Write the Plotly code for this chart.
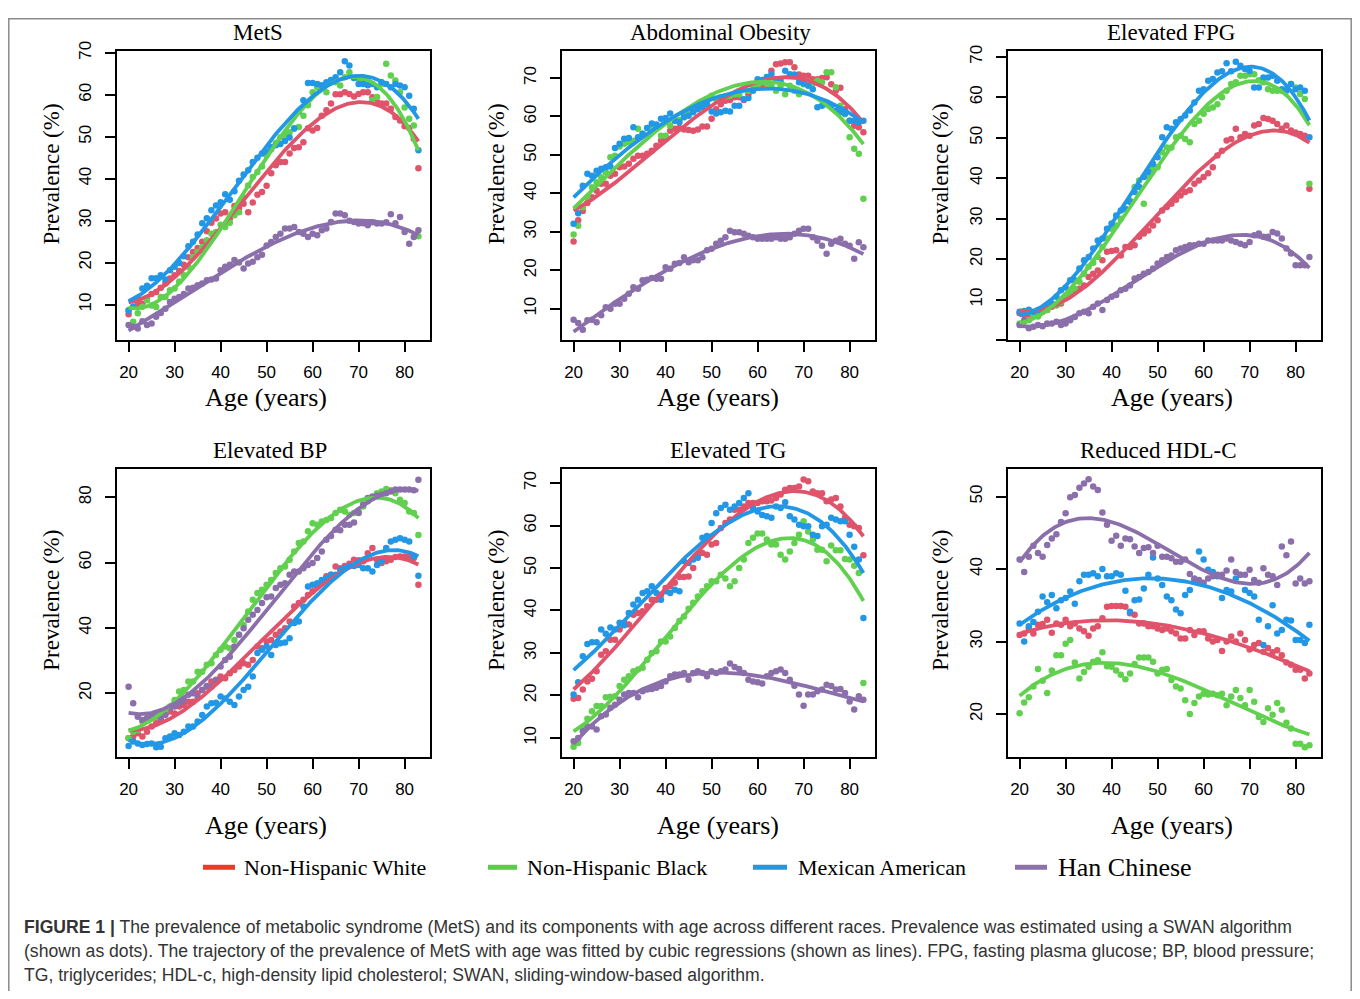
import numpy as np
import plotly.graph_objects as go

# ---------------- data ----------------
AGES = list(range(20, 84))
PANEL_TITLES = ["MetS", "Abdominal Obesity", "Elevated FPG", "Elevated BP", "Elevated TG", "Reduced HDL-C"]
RACES = ["Non-Hispanic White", "Non-Hispanic Black", "Mexican American", "Han Chinese"]
X_TICKS = [20, 30, 40, 50, 60, 70, 80]

METS_WHITE = [7.7, 9.5, 10.2, 10.2, 11.5, 12.5, 13, 14, 15, 16.2,
              17, 18, 19.5, 21.3, 22.5, 23.5, 25, 27.5, 29.5, 30.5,
              31.7, 32, 30.5, 33.5, 33, 34, 32, 34.3, 36.2, 36.8,
              38.3, 41.3, 43.2, 44, 44, 46, 47.3, 47.5, 48.7, 52,
              51.5, 52.1, 55, 56.3, 57.9, 60.1, 60.1, 60.6, 60.2, 59.6,
              60.2, 60.6, 60.6, 59.4, 58.3, 57.9, 57.9, 56.7, 54.7, 53.9,
              52.5, 52.1, 49.5, 42.5]
METS_BLACK = [8.7, 5.9, 7.9, 9.5, 11, 9.8, 9.4, 11.8, 11.8, 13.4,
              13.8, 15.5, 17, 19, 21.3, 22.5, 23.7, 25.3, 26.9, 27.3,
              29, 28.5, 29.5, 31.3, 32, 35.5, 38.4, 40.4, 41.6, 42.9,
              45.6, 47, 48.5, 49.9, 50.5, 51.1, 51.9, 52.3, 55, 57.5,
              60.6, 61.8, 61.8, 60.6, 63.4, 63, 62.2, 64.2, 65.4, 64,
              63.8, 63.6, 63.4, 58.7, 59.5, 62.6, 67.4, 64.6, 63.4, 60.6,
              57, 54.3, 52.7, 26.3]
METS_MEXICAN = [8.5, 9.5, 11.5, 13.8, 14.5, 16.3, 16.3, 17, 16, 18.2,
                19, 19.9, 21.5, 23.9, 25, 26.7, 29.4, 30.6, 32.5, 33.6,
                34.4, 36.3, 35, 37, 39.5, 41, 42, 44, 45, 46,
                46.5, 47.5, 48, 48.3, 49, 49.8, 52, 56, 58.7, 62.8,
                62.8, 62.6, 62.3, 63, 63.5, 64.2, 65.4, 68, 67, 64,
                62.6, 62.6, 62.3, 62.6, 61.8, 63, 62.6, 61.8, 62.6, 62.2,
                61.8, 59.8, 56.7, 46.8]
METS_HAN = [5.1, 4.7, 4.3, 6, 5.1, 5.5, 7.1, 8, 9, 10.6,
            11.4, 11.8, 12.5, 13.8, 14, 14.6, 15, 15.8, 16, 16.2,
            18.2, 19, 19.5, 20.6, 20, 18.6, 19.8, 20.2, 21.3, 21.9,
            24.1, 24.9, 26.1, 26.9, 28.1, 28.1, 28.5, 27.3, 26.9, 26.1,
            26.9, 26.5, 27.7, 28.1, 29.7, 31.7, 31.7, 31.3, 30, 29.7,
            29.3, 29.4, 28.9, 29.6, 29.3, 29.3, 29.6, 31.5, 29.4, 30.9,
            27.3, 24.5, 26.1, 27.7]

ABD_WHITE = [27.5, 33, 35.4, 37.5, 39, 40.7, 42.5, 42.5, 44.6, 45.1,
             46.8, 47, 47.7, 49, 49.8, 49.8, 50.3, 51.1, 52.4, 53.7,
             54.6, 56.3, 56.8, 57, 56.6, 56.5, 56.3, 56.6, 57.4, 57.4,
             59.4, 61.9, 63.2, 64.1, 64.3, 65, 65, 64.3, 65.8, 67.1,
             67.5, 68, 68.6, 71.9, 73.6, 73.8, 74.1, 74.1, 72.8, 70.9,
             70.6, 70.6, 69.7, 69.7, 70, 70.2, 68.4, 66.7, 67.5, 61.9,
             58.9, 57.6, 57.2, 55.9]
ABD_BLACK = [29.3, 31.6, 36.4, 39, 41.6, 42.9, 44.2, 45.5, 49.4, 49.8,
             52.2, 52.9, 53.3, 53.7, 56.8, 55.5, 57, 57.6, 57.2, 55,
             55, 57.6, 58.9, 59.1, 60.2, 61.1, 61.9, 62.4, 63.2, 64.5,
             65.4, 64.5, 65, 65.2, 65.4, 65.8, 65.8, 67.1, 66.7, 67.6,
             68, 68.9, 68.6, 68, 66.7, 68, 65.8, 68, 66.7, 65.8,
             68.4, 68.9, 68.6, 69.3, 68.9, 71.5, 71.5, 67.6, 62.8, 60.6,
             54.6, 51.6, 50.3, 38.6]
ABD_MEXICAN = [32.1, 34.8, 42, 45.1, 44.6, 45.9, 46.4, 46.8, 47, 51.8,
               52.9, 54.2, 54.4, 57.2, 54.6, 55.5, 57, 58.2, 57.9, 59.4,
               59.6, 60.8, 58.9, 58.5, 59.8, 60.2, 61.1, 61.9, 62.4, 63.2,
               61.3, 60.8, 61.1, 61.5, 61.3, 62.8, 62.8, 64.5, 64.8, 66.7,
               69.7, 69.5, 70.3, 71, 69.7, 69.3, 71.9, 71, 70.9, 68.9,
               68.6, 68, 67.1, 62.4, 62.8, 63.2, 62.8, 61.5, 61.1, 60.8,
               58.9, 58.9, 58.5, 58.9]
ABD_HAN = [7.1, 6.3, 4.5, 7, 7.1, 6.5, 8.3, 10.4, 10, 11.3,
           11.3, 12.6, 13.9, 15.6, 15.2, 17.4, 17.5, 18, 17.8, 17.8,
           20.8, 20.4, 21.7, 21.9, 23.4, 22.1, 22.6, 22.6, 23.4, 25.2,
           25.6, 26.9, 27.7, 28.6, 30.3, 29.9, 29.9, 29.5, 29, 28.6,
           28.2, 28.2, 28.2, 28.2, 28.6, 28.2, 28.2, 28.6, 29.5, 30.3,
           30.8, 30.8, 28.6, 27.7, 26.4, 24.3, 26.9, 27.7, 28.2, 26.9,
           26.4, 23, 27.3, 26]

FPG_WHITE = [6.6, 6.2, 6.2, 6.2, 6.6, 7, 7.4, 8.2, 8.6, 9,
             10.3, 11.1, 12.3, 12.7, 13.5, 15.6, 16.4, 17.2, 19.7, 21.8,
             22, 22.2, 20.9, 23, 23, 23.4, 25.5, 26.3, 27.1, 28.3,
             29.6, 32, 32.9, 33.7, 34.7, 35.7, 36.6, 37, 38.6, 39.4,
             40.3, 41.2, 42.7, 45.6, 46.8, 49.3, 49.7, 52.2, 50.1, 50.9,
             50.5, 53, 53.4, 54.9, 54.6, 54.2, 53.4, 52.2, 53, 51.8,
             51.3, 50.9, 50.5, 37.4]
FPG_BLACK = [4.1, 4.5, 4.9, 6.2, 5.8, 7, 7.4, 8.6, 8.6, 9.4,
             10.7, 11.5, 12.7, 14.4, 16.4, 18.1, 19.1, 20.5, 23, 25.1,
             27.5, 28.3, 30, 32.4, 34.5, 37.8, 39.4, 33.7, 40.5, 42.3,
             42.7, 46.4, 47.6, 47.6, 50.1, 50.5, 49.7, 48.9, 53.4, 54.2,
             55.9, 57.1, 57.5, 58.3, 60, 61.6, 63.3, 63.7, 65.3, 65.3,
             65.7, 65.7, 64.2, 63.7, 62, 61.6, 61.6, 61.6, 62, 63.3,
             62.4, 60.8, 59.6, 38.6]
FPG_MEXICAN = [7, 7.2, 7.5, 7, 7.4, 7.8, 8.2, 9, 10.7, 12.3,
               13, 14.8, 14.8, 17.7, 19.7, 20.5, 22.6, 24.6, 25.1, 27.5,
               28.8, 30.8, 32, 32.4, 34.1, 36.6, 37.8, 40.3, 41.5, 43.5,
               45.2, 50.1, 52.6, 52.2, 53.8, 54.6, 55.5, 56.7, 58.7, 61.6,
               62, 64.1, 64.5, 66.1, 66.4, 68.4, 66.4, 68.8, 67.8, 67,
               66.5, 62.4, 62.4, 64.9, 64.9, 65.3, 64.1, 62, 61.6, 63.3,
               62, 62.4, 61.6, 50.1]
FPG_HAN = [3.7, 4.9, 2.9, 3.3, 3.7, 3.4, 4.1, 4.1, 4.5, 3.7,
           4.1, 4.9, 5.7, 6.6, 7, 6.6, 8.2, 9, 7.4, 9.9,
           10.7, 11.1, 12.3, 12.7, 13.5, 15.2, 15.6, 16.4, 16.8, 17.7,
           18.9, 19.7, 20.5, 20.9, 22.2, 22.6, 23, 23.4, 23.4, 23.8,
           23.8, 24.6, 24.6, 24.6, 24.6, 25.1, 24.6, 24.2, 23.8, 23.4,
           24.2, 25.9, 26.3, 25.5, 25.5, 26.7, 26.3, 25.1, 22.6, 21.4,
           18.5, 18.5, 18.5, 20.5]

BP_WHITE = [6.2, 6.7, 7.7, 6.7, 8.2, 9.8, 10.8, 11.8, 13.8, 14.4,
            13.8, 15.9, 16.4, 17.4, 17.4, 20, 21, 22, 23.6, 23.6,
            25.1, 24.6, 26.1, 27.1, 28.2, 29.2, 28.7, 30.2, 34.3, 33.8,
            35.8, 36.3, 37.9, 38.9, 39.9, 42, 46.6, 47.6, 48.6, 50.1,
            51.2, 52.7, 53.7, 55.8, 56.3, 58.8, 58.3, 59, 59.7, 60.9,
            60.7, 60.4, 62.9, 64.5, 60.9, 59.9, 60.4, 60.9, 61.7, 61.9,
            61.9, 61.9, 61.4, 53.2]
BP_BLACK = [6.2, 8.2, 8.7, 11.3, 12.3, 12.8, 12.8, 13.8, 14.4, 15.9,
            17.9, 20.5, 21, 23.6, 23.6, 26.6, 26.6, 28.7, 29.2, 31.7,
            33.3, 34.3, 33.8, 36.3, 37.9, 40.9, 45, 48.6, 50.7, 51.7,
            53.2, 54.7, 56.8, 58.3, 58.8, 60.9, 63.4, 66, 66.5, 69.6,
            72.1, 71.6, 72.6, 73.1, 73.7, 75.2, 76.2, 75.7, 74.7, 75.2,
            75.7, 77.2, 78.8, 79.8, 81.3, 81.8, 82.6, 82.2, 81.3, 79.3,
            78.3, 75.7, 75.2, 68.5]
BP_MEXICAN = [3.8, 5.2, 4.6, 4.1, 4.4, 4.6, 3.4, 3.6, 6.2, 6.7,
              7.7, 7.2, 8.2, 9.8, 9.8, 11.3, 13.3, 15.9, 16.9, 17.1,
              19, 18.4, 17.4, 16.4, 19, 21, 22, 25.1, 32.3, 33.3,
              34.3, 31.7, 34.8, 35.3, 35.5, 36.8, 41.5, 42, 46.6, 52.7,
              53.2, 53.7, 54.7, 55.3, 56.3, 56.3, 57.8, 58.3, 59, 59,
              59.3, 58.3, 58.3, 57.3, 59.3, 60.4, 64.5, 66.5, 67, 67.5,
              67, 66.5, 62, 56]
BP_HAN = [22, 16.9, 12.8, 11.8, 12.3, 12.8, 13.3, 12.3, 13.3, 15.4,
          15.9, 16.9, 17.9, 19.5, 20, 18.8, 21, 22.2, 22, 24.1,
          28.2, 30.2, 31.2, 34.3, 37.9, 39.9, 42.5, 44, 45.5, 47.6,
          49.4, 49.6, 52.2, 53.2, 53.7, 56.3, 57.3, 57.3, 58.3, 59.3,
          59.9, 61.4, 63.4, 67, 68.2, 70.1, 69.9, 71.6, 71.6, 72.3,
          75.2, 77.8, 79.8, 80.3, 80.5, 80.8, 81.3, 81.8, 82.4, 82.4,
          82.4, 82.4, 82.2, 85.4]

TG_WHITE = [19.2, 19.4, 21.4, 23.3, 23.9, 25.7, 29.6, 30.4, 33.1, 33.1,
            35.5, 37.1, 36.7, 39, 39.4, 39.8, 41, 42.5, 42.5, 43.7,
            45.3, 45.7, 46.5, 47.9, 47.9, 48, 50, 53.1, 53.5, 53.1,
            55.5, 55.9, 59.4, 60.6, 61.4, 63.7, 63.7, 64.5, 65.3, 65.3,
            65.3, 65.7, 65.7, 65.9, 66.5, 67.3, 68.4, 68.8, 68.8, 69.2,
            70.8, 70.4, 68, 67.6, 67.6, 65.7, 66.1, 66.5, 64.5, 61.8,
            60.2, 59.8, 59.4, 53]
TG_BLACK = [7.9, 8.8, 12.5, 14.5, 16.3, 17.5, 17.5, 19.6, 19.7, 19.8,
            22.2, 23.7, 24.5, 25.7, 26.1, 26.5, 28.4, 30, 30.4, 32.7,
            32.7, 33.9, 35.9, 37.5, 38.6, 40.4, 41.8, 43.3, 44.5, 45.7,
            46.9, 46.9, 48.4, 47.5, 45.7, 46.9, 50, 52, 55.9, 57.1,
            58.1, 58.1, 56.7, 55.5, 55.5, 53.1, 52, 53.9, 55.9, 57.8,
            61, 58.6, 56.7, 54.3, 54.3, 51.6, 55.3, 54.2, 54.2, 52.1,
            52, 50.5, 48.8, 22.9]
TG_MEXICAN = [20.2, 23.1, 29.2, 32.1, 32.5, 32.5, 35.5, 34.5, 36, 35.5,
              37.1, 36.5, 39.4, 41.4, 42.5, 44.1, 44.5, 45.7, 44.1, 42.5,
              44.5, 44.1, 44.9, 44.5, 51.6, 51.2, 52, 52.4, 57.1, 57.5,
              60.6, 62.9, 64.1, 64.9, 63.7, 64.5, 65.3, 66.5, 67.6, 64.1,
              63.3, 62.5, 62.2, 61.8, 64.5, 64.1, 65.5, 62.2, 61.4, 60.2,
              59.8, 59.8, 57.8, 57.5, 59.8, 60.2, 61.8, 61.4, 61, 61,
              57.8, 55, 52, 38.2]
TG_HAN = [9.2, 10, 11.6, 12.7, 12.7, 12, 15.1, 15.5, 17.1, 17.8,
          19, 20.2, 20.6, 20.6, 19.6, 21, 21.4, 21.5, 21.8, 22.2,
          23.3, 24.5, 24.9, 24.9, 25.3, 23.7, 25.3, 25.7, 25.3, 24.5,
          25.7, 25.3, 25.7, 26.1, 27.5, 26.7, 26.2, 25.3, 23.7, 23.3,
          23.1, 22.8, 24.5, 25.3, 25.7, 26.1, 25.3, 23.7, 22.3, 20.2,
          17.6, 20.2, 20.2, 21, 21.4, 22.5, 22.2, 21.4, 21.5, 20.6,
          18.6, 16.7, 19.8, 19]

HDL_WHITE = [30.9, 31.1, 31.8, 31.1, 32.3, 32.4, 33, 31.2, 32.5, 32.3,
             33, 32.1, 32.5, 31.8, 31.4, 30.8, 31.8, 32.1, 33.2, 34.8,
             34.9, 34.9, 34.9, 34.8, 33.9, 33.7, 32.5, 32.5, 32.1, 32.1,
             31.8, 31.6, 31.8, 31.4, 31.1, 30.4, 30.4, 31.6, 30.9, 31.4,
             31.4, 30.4, 30, 30.2, 28.7, 30, 30.7, 30, 31.1, 30.2,
             28.9, 29.5, 29.8, 28.6, 29.1, 28.5, 28.8, 28.1, 27.1, 26.8,
             26.1, 26.1, 24.9, 25.6]
HDL_BLACK = [20.1, 21.6, 22.3, 23.8, 26.2, 24.6, 22.9, 26, 28.1, 28.1,
             29.7, 30.2, 27.1, 24.9, 25.8, 26.5, 27.2, 27.4, 28.5, 26.6,
             26.5, 26, 25.4, 24.8, 25.6, 26.9, 27.8, 27.8, 27.8, 27.2,
             25.6, 26.1, 26.2, 24.7, 23.8, 23.5, 21.9, 20, 21.5, 22.4,
             22.8, 22.7, 22.8, 22.6, 22.8, 21.2, 22.4, 23.3, 22.2, 21.2,
             23.3, 21.7, 19.6, 18.9, 20.8, 19.9, 21.5, 20.6, 18.8, 18,
             15.9, 15.9, 15.4, 15.7]
HDL_MEXICAN = [32.5, 30, 32.1, 32.7, 34.1, 36.2, 35.4, 36.4, 34.6, 35.7,
               36, 36.9, 35.2, 38.3, 39.2, 39.2, 39.4, 39, 40, 39,
               39, 39.4, 39.2, 37, 34.1, 35.7, 35.8, 37.3, 39.2, 41.6,
               38.7, 37.8, 36.2, 35.7, 34.4, 33.9, 36.4, 37.1, 38.5, 42.4,
               41.3, 39.9, 39.6, 39, 36, 37.1, 36.9, 38.7, 39.2, 37.1,
               36.7, 36.2, 33, 29.5, 32.1, 35, 31.1, 31.6, 33, 32.9,
               30.2, 30.2, 29.8, 32.3]
HDL_HAN = [41.3, 39.6, 41.7, 43.2, 42.2, 41.7, 43.3, 44.2, 44.8, 46.5,
           47.7, 49.9, 50.2, 51.2, 51.8, 52.4, 51.4, 50.9, 47.8, 46.1,
           43.9, 44.6, 43.2, 44.2, 44.1, 43.1, 42.2, 42.9, 43, 42.2,
           43.2, 41.7, 41.7, 41.5, 41, 41, 41.3, 39.3, 38.7, 38.5,
           38.1, 38.7, 39, 39.2, 39.2, 39.8, 41.3, 39.6, 39.2, 39.2,
           39.9, 38.5, 38.1, 40.1, 39.2, 39, 37.8, 43.1, 41.9, 43.8,
           38, 38.7, 38, 38.3]

Y_TICKS = [
    [10, 20, 30, 40, 50, 60, 70],
    [10, 20, 30, 40, 50, 60, 70],
    [0, 10, 20, 30, 40, 50, 60, 70],
    [20, 40, 60, 80],
    [10, 20, 30, 40, 50, 60, 70],
    [20, 30, 40, 50],
]
Y_TICK_TEXT = [
    ["10", "20", "30", "40", "50", "60", "70"],
    ["10", "20", "30", "40", "50", "60", "70"],
    ["", "10", "20", "30", "40", "50", "60", "70"],
    ["20", "40", "60", "80"],
    ["10", "20", "30", "40", "50", "60", "70"],
    ["20", "30", "40", "50"],
]

PANEL_DATA = [
    [METS_WHITE, METS_BLACK, METS_MEXICAN, METS_HAN],
    [ABD_WHITE, ABD_BLACK, ABD_MEXICAN, ABD_HAN],
    [FPG_WHITE, FPG_BLACK, FPG_MEXICAN, FPG_HAN],
    [BP_WHITE, BP_BLACK, BP_MEXICAN, BP_HAN],
    [TG_WHITE, TG_BLACK, TG_MEXICAN, TG_HAN],
    [HDL_WHITE, HDL_BLACK, HDL_MEXICAN, HDL_HAN],
]

CAPTION_LINES = [
    "<b>FIGURE 1 |</b> The prevalence of metabolic syndrome (MetS) and its components with age across different races. Prevalence was estimated using a SWAN algorithm",
    "(shown as dots). The trajectory of the prevalence of MetS with age was fitted by cubic regressions (shown as lines). FPG, fasting plasma glucose; BP, blood pressure;",
    "TG, triglycerides; HDL-c, high-density lipid cholesterol; SWAN, sliding-window-based algorithm.",
]

# ---------------- styling / layout ----------------
DOT_COLORS = ["#DF536B", "#61D04F", "#2297E6", "#8B6FAB"]
LEGEND_COLORS = ["#EC3A2A", "#5BCB4C", "#2497E2", "#8D72A9"]
SERIF = "Liberation Serif, Times New Roman, serif"
SANS = "Liberation Sans, Arial, sans-serif"

# figure size and measured on-screen placement of the plot area
W, H = 1344, 983
OX = 8
TOP_Y = 17.2
SCALE_Y = 0.9916 * H


def fx(X):
    return (X - OX) / W


def fy(Y):
    return 1 - (Y - TOP_Y) / SCALE_Y


COL_PX = [(117, 430), (562, 875), (1008, 1321)]
ROW_PX = [(50, 340), (469, 758)]
Y_RANGES = [[1.5, 70.5], [1.8, 77.1], [-0.05, 71.5], [0.3, 88.7], [5.4, 73.3], [14.0, 53.8]]
X_RANGE = [17.48, 85.52]
TITLE_POS = [(258, 32), (720, 32), (1171, 32), (270, 450), (728, 450), (1158, 450)]
XT_POS = [(266, 397), (718, 397), (1172, 397), (266, 826), (718, 826), (1172, 826)]
YT_POS = [(52, 174), (497, 174), (941, 174), (52, 601), (497, 601), (941, 601)]

fig = go.Figure()
layout = dict(
    width=W, height=H,
    margin=dict(l=0, r=0, t=0, b=0),
    paper_bgcolor="white", plot_bgcolor="white",
    showlegend=False,
    annotations=[], shapes=[],
)

ages = np.array(AGES, dtype=float)
grid = np.linspace(ages.min(), ages.max(), 200)

for p in range(6):
    r, c = divmod(p, 3)
    xa = "x" if p == 0 else f"x{p+1}"
    ya = "y" if p == 0 else f"y{p+1}"
    xkey = "xaxis" if p == 0 else f"xaxis{p+1}"
    ykey = "yaxis" if p == 0 else f"yaxis{p+1}"
    x0, x1 = COL_PX[c]
    t0, t1 = ROW_PX[r]
    layout[xkey] = dict(
        domain=[fx(x0), fx(x1)], anchor=ya, range=X_RANGE,
        tickmode="array", tickvals=X_TICKS, ticktext=[str(v) for v in X_TICKS],
        showline=True, mirror=True, linecolor="black", linewidth=1.8,
        ticks="outside", ticklen=10, tickwidth=1.5, tickcolor="black",
        ticklabelstandoff=5,
        showgrid=False, zeroline=False,
        tickfont=dict(family=SANS, size=17, color="black"),
    )
    layout[ykey] = dict(
        domain=[fy(t1), fy(t0)], anchor=xa, range=Y_RANGES[p],
        tickmode="array", tickvals=Y_TICKS[p], ticktext=Y_TICK_TEXT[p],
        tickangle=-90,
        showline=True, mirror=True, linecolor="black", linewidth=1.8,
        ticks="outside", ticklen=10, tickwidth=1.5, tickcolor="black",
        ticklabelstandoff=7,
        showgrid=False, zeroline=False,
        tickfont=dict(family=SANS, size=17, color="black"),
    )
    for k, series in enumerate(PANEL_DATA[p]):
        fig.add_trace(go.Scatter(
            x=AGES, y=series, mode="markers", xaxis=xa, yaxis=ya,
            marker=dict(color=DOT_COLORS[k], size=6.5, line=dict(width=0)),
            name=RACES[k], hoverinfo="x+y+name",
        ))
    for k, series in enumerate(PANEL_DATA[p]):
        coef = np.polyfit(ages, np.array(series, dtype=float), 3)
        fig.add_trace(go.Scatter(
            x=grid, y=np.polyval(coef, grid), mode="lines", xaxis=xa, yaxis=ya,
            line=dict(color=DOT_COLORS[k], width=3.8),
            name=RACES[k] + " (cubic fit)", hoverinfo="skip",
        ))
    tx, ty = TITLE_POS[p]
    layout["annotations"].append(dict(
        text=PANEL_TITLES[p], x=fx(tx), y=fy(ty), xref="paper", yref="paper",
        showarrow=False, xanchor="center", yanchor="middle",
        font=dict(family=SERIF, size=23, color="black")))
    ax, ay = XT_POS[p]
    layout["annotations"].append(dict(
        text="Age (years)", x=fx(ax), y=fy(ay), xref="paper", yref="paper",
        showarrow=False, xanchor="center", yanchor="middle",
        font=dict(family=SERIF, size=26, color="black")))
    bx, by = YT_POS[p]
    layout["annotations"].append(dict(
        text="Prevalence (%)", x=fx(bx), y=fy(by), xref="paper", yref="paper",
        showarrow=False, xanchor="center", yanchor="middle", textangle=-90,
        font=dict(family=SERIF, size=23, color="black")))

# legend (manual, below the panels)
LEG_Y = 868
LEG_ITEMS = [(203, 235, 242, 22), (488, 517, 525, 22), (753, 787, 796, 22), (1015, 1047, 1056, 26)]
for k, (lx0, lx1, tx0, fs) in enumerate(LEG_ITEMS):
    layout["shapes"].append(dict(
        type="line", xref="paper", yref="paper",
        x0=fx(lx0), x1=fx(lx1), y0=fy(LEG_Y), y1=fy(LEG_Y),
        line=dict(color=LEGEND_COLORS[k], width=5)))
    layout["annotations"].append(dict(
        text=RACES[k], x=fx(tx0), y=fy(LEG_Y), xref="paper", yref="paper",
        showarrow=False, xanchor="left", yanchor="middle",
        font=dict(family=SERIF, size=fs, color="black")))

# caption
for i, line in enumerate(CAPTION_LINES):
    layout["annotations"].append(dict(
        text=line, x=fx(22), y=fy(928 + 24 * i), xref="paper", yref="paper",
        showarrow=False, xanchor="left", yanchor="middle",
        font=dict(family=SANS, size=17.6, color="#333333")))

# outer frame
layout["shapes"].append(dict(
    type="rect", xref="paper", yref="paper",
    x0=0.0006, x1=0.9994, y0=-0.02, y1=0.9992,
    line=dict(color="#8a8a8a", width=1.5), fillcolor="rgba(0,0,0,0)"))

fig.update_layout(**layout)
fig.write_html("out.html")
